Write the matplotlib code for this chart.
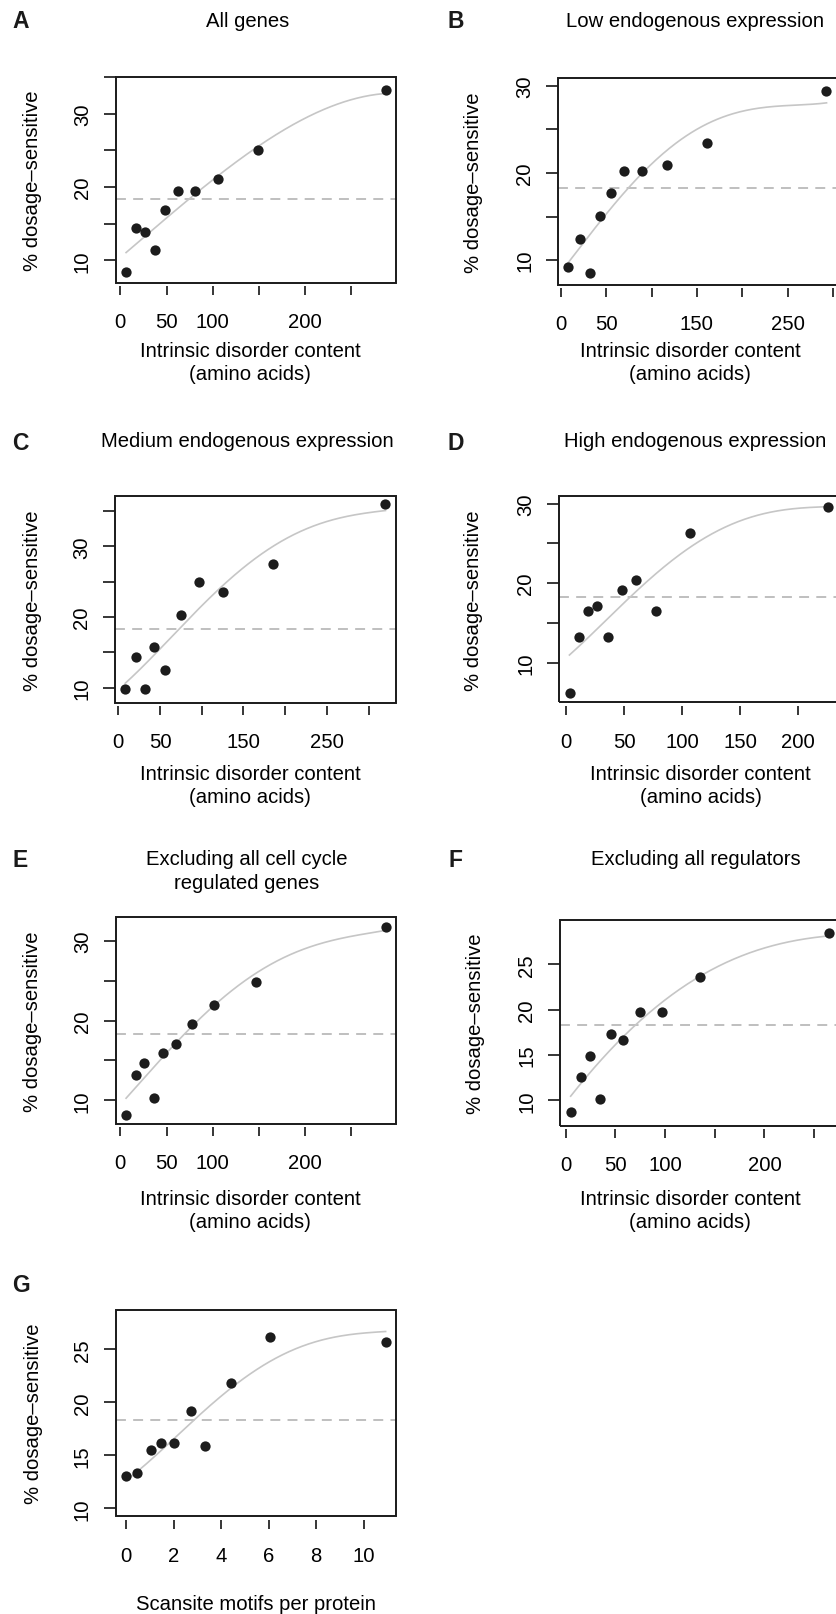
import numpy as np
import matplotlib
matplotlib.use("Agg")
import matplotlib.pyplot as plt
from matplotlib.patches import Rectangle

plt.rcParams['font.family'] = ['Liberation Sans', 'DejaVu Sans']
plt.rcParams['font.size'] = 14.6

### data
baseline = 18.3  # genome-wide % dosage-sensitive (dashed line)

# A: all genes
a_x = [6.2, 16.7, 26.4, 37.0, 48.2, 62.7, 80.4, 105.4, 149.6, 287.3]
a_y = [8.45, 14.4, 13.8, 11.4, 16.8, 19.4, 19.4, 21.1, 25.1, 33.2]
a_fit_x = [6.2, 28, 50, 80, 105, 150, 200, 250, 287.3]
a_fit_y = [11.0, 13.5, 15.8, 18.9, 21.4, 25.6, 29.5, 31.8, 32.8]

# B: low endogenous expression
b_x = [8.1, 20.5, 31.9, 42.9, 55.0, 70.0, 89.1, 116.6, 161.3, 292.6]
b_y = [9.16, 12.45, 8.54, 15.06, 17.66, 20.23, 20.23, 20.96, 23.5, 29.4]
b_fit_x = [7.7, 30.4, 52.4, 74.4, 88.7, 114.8, 140.4, 161, 195.5, 232, 293]
b_fit_y = [9.73, 12.6, 15.6, 18.28, 20.0, 22.49, 24.29, 25.63, 26.97, 27.66, 28.05]

# C: medium endogenous expression
c_x = [8.6, 21.2, 32.3, 42.7, 55.7, 75.1, 97.2, 125.8, 185.7, 319.9]
c_y = [9.84, 14.4, 9.84, 15.7, 12.45, 20.3, 24.9, 23.6, 27.5, 36.05]
c_fit_x = [8.4, 32.5, 52.5, 74.5, 100.6, 124.6, 152.6, 184.7, 216.7, 252.8, 288.9, 320.1]
c_fit_y = [10.6, 13.36, 15.96, 18.32, 21.63, 24.47, 27.3, 29.9, 32.03, 33.69, 34.54, 35.1]

# D: high endogenous expression
d_x = [3.1, 11.2, 18.9, 26.6, 36.4, 47.9, 60.1, 77.6, 106.5, 226.1]
d_y = [6.23, 13.19, 16.46, 17.13, 13.19, 19.1, 20.4, 16.46, 26.35, 29.62]
d_fit_x = [2.9, 19.3, 36.5, 56, 76.7, 106.3, 148.6, 177.3, 225.6]
d_fit_y = [10.92, 13.19, 15.7, 18.3, 21.0, 24.5, 27.8, 28.9, 29.62]

# E: excluding cell cycle regulated genes
e_x = [6.2, 16.7, 26.1, 35.9, 46.7, 60.5, 77.5, 101.8, 146.7, 287.3]
e_y = [8.12, 13.18, 14.64, 10.25, 15.9, 17.07, 19.54, 21.97, 24.9, 31.7]
e_fit_x = [6.2, 28.3, 50, 77.5, 101.8, 122.5, 146.7, 176.8, 199.3, 231.2, 287.3]
e_fit_y = [10.33, 13.1, 15.8, 19.3, 22.1, 24.0, 25.9, 27.7, 29.0, 30.25, 31.3]

# F: excluding all regulators
f_x = [5.0, 15.4, 24.5, 34.2, 45.6, 57.7, 74.8, 96.6, 135.6, 265.4]
f_y = [8.75, 12.54, 14.93, 10.11, 17.32, 16.62, 19.78, 19.78, 23.6, 28.46]
f_fit_x = [5, 23.2, 40, 57.4, 76.8, 100.3, 123.8, 157.4, 191, 224.5, 264.8]
f_fit_y = [10.4, 12.9, 15.18, 16.9, 18.8, 21.07, 23.0, 25.04, 26.5, 27.43, 28.16]

# G: scansite motifs
g_x = [0.0, 0.45, 1.03, 1.45, 2.01, 2.74, 3.34, 4.42, 6.04, 10.93]
g_y = [13.05, 13.3, 15.47, 16.13, 16.13, 19.18, 15.91, 21.82, 26.16, 25.72]
g_fit_x = [0, 0.81, 1.66, 3.0, 4.44, 5.73, 7.13, 8.54, 10.93]
g_fit_y = [12.55, 14.18, 16.07, 18.27, 21.4, 23.6, 25.03, 25.97, 26.7]

# ticks
dis_ticks_250 = [0, 50, 100, 150, 200, 250]
dis_labels_250 = ['0', '50', '100', '', '200', '']
dis_ticks_300 = [0, 50, 100, 150, 200, 250, 300]
dis_labels_300 = ['0', '50', '', '150', '', '250', '']
dis_ticks_200 = [0, 50, 100, 150, 200]
dis_labels_200 = ['0', '50', '100', '150', '200']
g_ticks = [0, 2, 4, 6, 8, 10]
g_labels = ['0', '2', '4', '6', '8', '10']

W, H = 836, 1615
fig = plt.figure(figsize=(W / 100, H / 100), dpi=100)


def ftext(x, y, s, **kw):
    fig.text(x / W, 1 - y / H, s, **kw)


def panel(letter, title, box, xs, ys, fx, fy, ylim, yt, ylab, xt, xlab,
          title_xy, letter_xy, ylab_x, xlab_x, xlab_lines, deg=4):
    l, t, r, b = box
    ax = fig.add_axes([l / W, 1 - b / H, (r - l) / W, (b - t) / H])
    ax.axhline(baseline, color='#bababa', lw=1.3, dashes=(5.5, 4), zorder=1)
    curve = np.polynomial.Polynomial.fit(fx, fy, deg)
    xx = np.linspace(fx[0], fx[-1], 200)
    ax.plot(xx, curve(xx), color='#c6c6c6', lw=1.2, zorder=2)
    ax.plot(xs, ys, 'o', color='#1c1c1c', ms=7.4, mec='none', zorder=3)

    pad = 0.04 * (max(xs) - min(xs))
    ax.set_xlim(min(xs) - pad, max(xs) + pad)
    ax.set_ylim(*ylim)
    ax.set_xticks(xt)
    ax.set_xticklabels(xlab)
    ax.set_yticks(yt)
    ax.set_yticklabels(ylab)
    plt.setp(ax.get_yticklabels(), rotation=90, va='center')
    ax.tick_params(axis='x', direction='out', length=6.3, width=1.1, pad=12.5)
    ax.tick_params(axis='y', direction='out', length=8.9, width=1.1, pad=8.3)

    # box drawn separately so x ticks can sit a little below it
    for s in ax.spines.values():
        s.set_visible(False)
    ax.spines['bottom'].set_position(('outward', 2.4))
    ax.add_patch(Rectangle((0, 0), 1, 1, transform=ax.transAxes, fill=False,
                           lw=1.4, ec='#1a1a1a', clip_on=False, zorder=5))

    ftext(letter_xy[0], letter_xy[1], letter, fontsize=16.5, fontweight='bold',
          ha='center', va='baseline', color='#1a1a1a')
    for i, line in enumerate(title):
        ftext(title_xy[0], title_xy[1][i], line, ha='center', va='baseline')
    ftext(ylab_x, (t + b) / 2, '% dosage\u2013sensitive', rotation=90,
          ha='center', va='center')
    for i, line in enumerate(xlab_lines[0]):
        ftext(xlab_x, xlab_lines[1][i], line, ha='center', va='baseline')
    return ax


ylab_5 = ['10', '', '20', '', '30', '']
dis_text = (['Intrinsic disorder content', '(amino acids)'],)

panel('A', ['All genes'], (115.7, 77.7, 396, 284), a_x, a_y, a_fit_x, a_fit_y,
      (6.9, 35.05), [10, 15, 20, 25, 30, 35], ylab_5,
      dis_ticks_250, dis_labels_250, (248, [27.3]), (20.5, 28.3), 32.5, 250,
      dis_text + ([356.7, 380],))

panel('B', ['Low endogenous expression'], (558, 79.3, 836.5, 285.7), b_x, b_y,
      b_fit_x, b_fit_y, (7.17, 30.88), [10, 15, 20, 25, 30], ylab_5[:5],
      dis_ticks_300, dis_labels_300, (695.4, [27.3]), (455.5, 28.3), 473.7, 690,
      dis_text + ([356.7, 380],))

panel('C', ['Medium endogenous expression'], (115, 497.3, 395.7, 704), c_x, c_y,
      c_fit_x, c_fit_y, (7.83, 37.1), [10, 15, 20, 25, 30, 35], ylab_5,
      dis_ticks_300, dis_labels_300, (247.5, [447.3]), (20.8, 450), 32.5, 250,
      dis_text + ([780, 803.3],))

panel('D', ['High endogenous expression'], (559.3, 497.3, 838.7, 703.3), d_x, d_y,
      d_fit_x, d_fit_y, (5.0, 30.92), [10, 15, 20, 25, 30], ylab_5[:5],
      dis_ticks_200, dis_labels_200, (695.2, [447.3]), (455.5, 450.5), 473.7, 700.8,
      dis_text + ([780, 803.3],))

panel('E', ['Excluding all cell cycle', 'regulated genes'], (115.7, 918.3, 396, 1125),
      e_x, e_y, e_fit_x, e_fit_y, (7.03, 32.97), [10, 15, 20, 25, 30], ylab_5[:5],
      dis_ticks_250, dis_labels_250, (247, [865, 889.3]), (20.5, 866.7), 32.5, 250,
      dis_text + ([1205, 1228.3],))

panel('F', ['Excluding all regulators'], (560.3, 920.7, 839.7, 1126.7), f_x, f_y,
      f_fit_x, f_fit_y, (7.2, 29.93), [10, 15, 20, 25], ['10', '15', '20', '25'],
      dis_ticks_250, dis_labels_250, (695.8, [865]), (456, 866.7), 475, 690,
      dis_text + ([1205, 1228.3],))

panel('G', [], (115.7, 1310.7, 396, 1517.3), g_x, g_y, g_fit_x, g_fit_y,
      (9.25, 28.74), [10, 15, 20, 25], ['10', '15', '20', '25'],
      g_ticks, g_labels, (248, []), (21, 1291.7), 34, 255.8,
      (['Scansite motifs per protein'], [1610]))

fig.savefig('out.png', dpi=100)
